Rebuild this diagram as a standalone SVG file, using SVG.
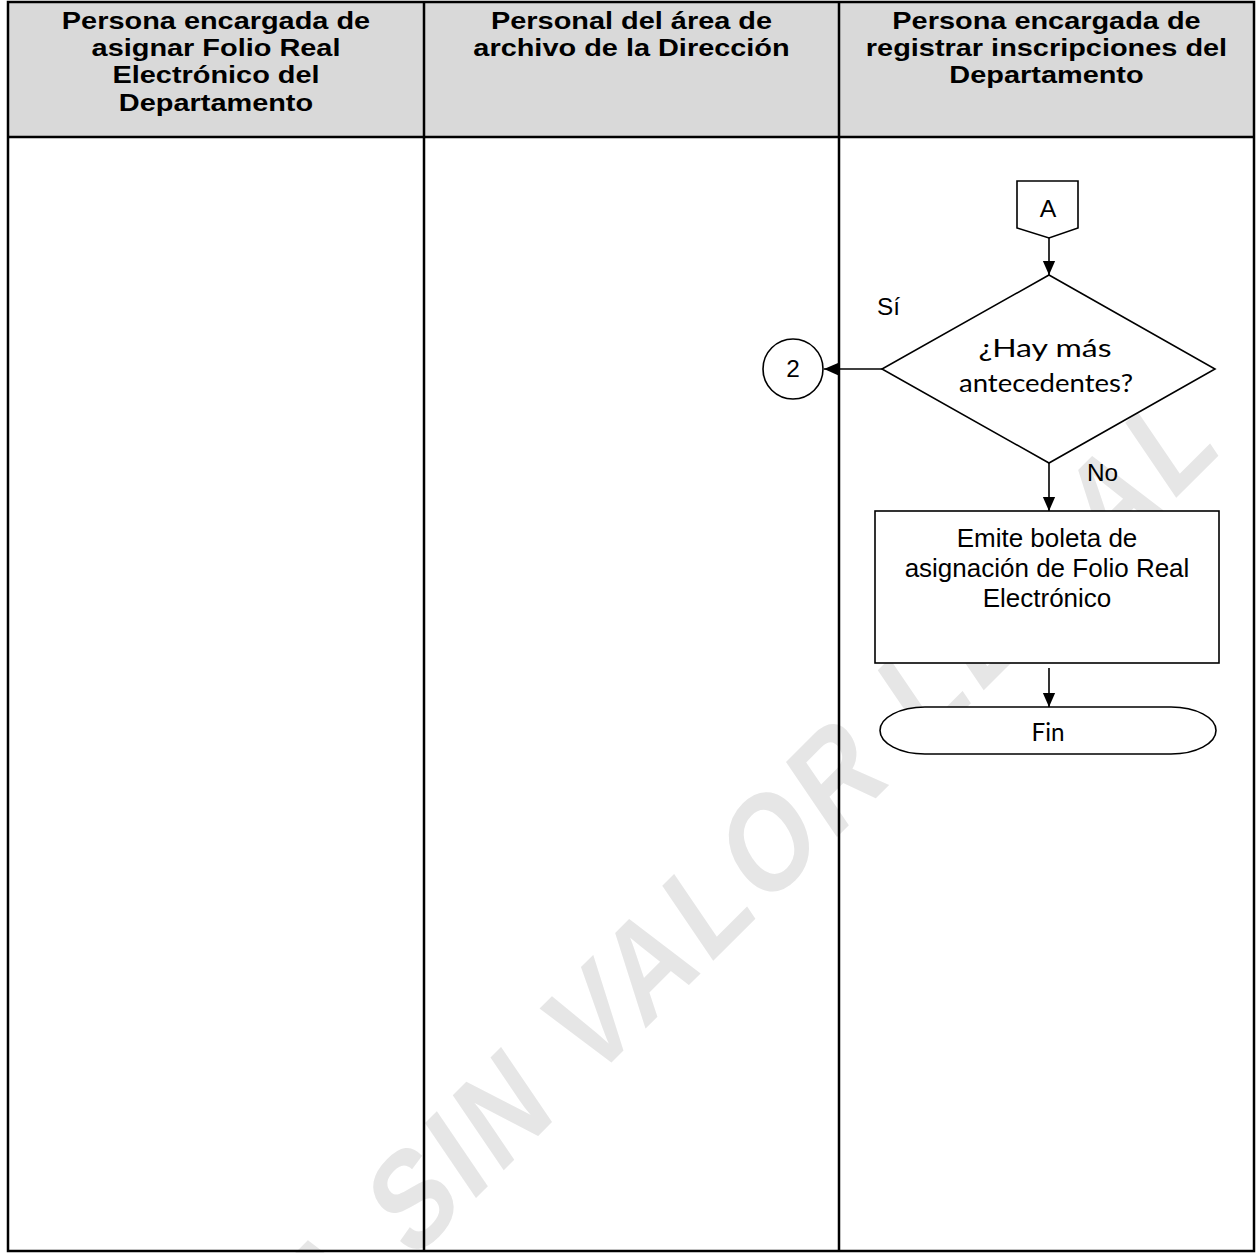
<svg xmlns="http://www.w3.org/2000/svg" width="1257" height="1253" viewBox="0 0 1257 1253">
  <defs>
    <style>
      .hdr { font-family: "Liberation Sans", Arial, sans-serif; font-weight: bold; font-size: 23.5px; fill: #000; text-anchor: middle; }
      .txt { font-family: "Liberation Sans", Arial, sans-serif; font-size: 26px; fill: #000; text-anchor: middle; }
      .lbl { font-family: "Liberation Sans", Arial, sans-serif; font-size: 23px; fill: #000; }
      .cal { font-family: Lato, "Open Sans", sans-serif; font-size: 25px; fill: #000; text-anchor: middle; }
      .grid { stroke: #000; stroke-width: 2.5; fill: none; }
      .shape { stroke: #000; stroke-width: 1.6; fill: #fff; }
      .conn { stroke: #000; stroke-width: 1.6; fill: none; marker-end: url(#arrow); }
      .wm { font-family: "Liberation Sans", Arial, sans-serif; font-weight: bold; font-size: 100px; letter-spacing: 6px; fill: #e6e6e6; }
    </style>
    <marker id="arrow" markerUnits="userSpaceOnUse" markerWidth="14" markerHeight="16" viewBox="0 0 16 14" refX="16" refY="7" orient="auto">
      <path d="M0,0 L16,7 L0,14 Z" fill="#000"/>
    </marker>
  </defs>

  <rect x="0" y="0" width="1257" height="1253" fill="#fff"/>

  <!-- header band -->
  <rect x="8" y="2" width="1246" height="135" fill="#d9d9d9"/>

  <!-- background stamp -->
  <text class="wm" transform="matrix(0.82 -0.82 0.74 1.09 102 1572)">COPIA SIN VALOR LEGAL</text>

  <!-- swimlane grid -->
  <g id="lanes">
    <rect class="grid" x="8" y="2" width="1246" height="1249"/>
    <line class="grid" x1="8" y1="137" x2="1254" y2="137"/>
    <line class="grid" x1="424" y1="2" x2="424" y2="1251"/>
    <line class="grid" x1="839" y1="2" x2="839" y2="1251"/>
  </g>

  <!-- lane titles -->
  <g id="lane-1-title">
    <g transform="translate(216 0) scale(1.23 1)">
      <text class="hdr" x="0" y="29">Persona encargada de</text>
      <text class="hdr" x="0" y="56.5">asignar Folio Real</text>
      <text class="hdr" x="0" y="83.5">Electrónico del</text>
      <text class="hdr" x="0" y="111">Departamento</text>
    </g>
  </g>
  <g id="lane-2-title">
    <g transform="translate(631.5 0) scale(1.23 1)">
      <text class="hdr" x="0" y="29">Personal del área de</text>
      <text class="hdr" x="0" y="56.5">archivo de la Dirección</text>
    </g>
  </g>
  <g id="lane-3-title">
    <g transform="translate(1046.5 0) scale(1.23 1)">
      <text class="hdr" x="0" y="29">Persona encargada de</text>
      <text class="hdr" x="0" y="56.5">registrar inscripciones del</text>
      <text class="hdr" x="0" y="83.5">Departamento</text>
    </g>
  </g>

  <!-- connectors -->
  <g id="connectors">
    <path class="conn" d="M1049,238 L1049,275"/>
    <path class="conn" d="M882,369 L824,369"/>
    <path class="conn" d="M1049,463 L1049,511"/>
    <path class="conn" d="M1049,668 L1049,707"/>
  </g>

  <!-- off-page connector A -->
  <g id="node-A">
    <path class="shape" d="M1017,181 L1078,181 L1078,228 L1049,238 L1017,228 Z"/>
    <g transform="translate(1048 0) scale(1.08 1)">
      <text class="lbl" x="0" y="217" text-anchor="middle">A</text>
    </g>
  </g>

  <!-- decision -->
  <g id="node-decision">
    <path class="shape" d="M1049,275 L1215,369 L1049,463 L882,369 Z"/>
    <text class="cal" x="1045" y="357" textLength="133" lengthAdjust="spacingAndGlyphs">¿Hay más</text>
    <text class="cal" x="1046" y="392" textLength="174" lengthAdjust="spacingAndGlyphs">antecedentes?</text>
  </g>

  <!-- branch labels -->
  <g id="label-si">
    <g transform="translate(877 0) scale(1.06 1)">
      <text class="lbl" x="0" y="315">Sí</text>
    </g>
  </g>
  <g id="label-no">
    <g transform="translate(1087 0) scale(1.06 1)">
      <text class="lbl" x="0" y="481">No</text>
    </g>
  </g>

  <!-- on-page connector 2 -->
  <g id="node-2">
    <circle class="shape" cx="793" cy="369" r="30"/>
    <g transform="translate(793 0) scale(1.06 1)">
      <text class="lbl" x="0" y="377" text-anchor="middle">2</text>
    </g>
  </g>

  <!-- process -->
  <g id="node-process">
    <rect class="shape" x="875" y="511" width="344" height="152"/>
    <text class="txt" x="1047" y="546.5">Emite boleta de</text>
    <text class="txt" x="1047" y="577">asignación de Folio Real</text>
    <text class="txt" x="1047" y="607">Electrónico</text>
  </g>

  <!-- terminator -->
  <g id="node-fin">
    <rect class="shape" x="880" y="707" width="336" height="47" rx="45" ry="23.5"/>
    <text class="cal" x="1048" y="741" textLength="33" lengthAdjust="spacingAndGlyphs">Fin</text>
  </g>
</svg>
